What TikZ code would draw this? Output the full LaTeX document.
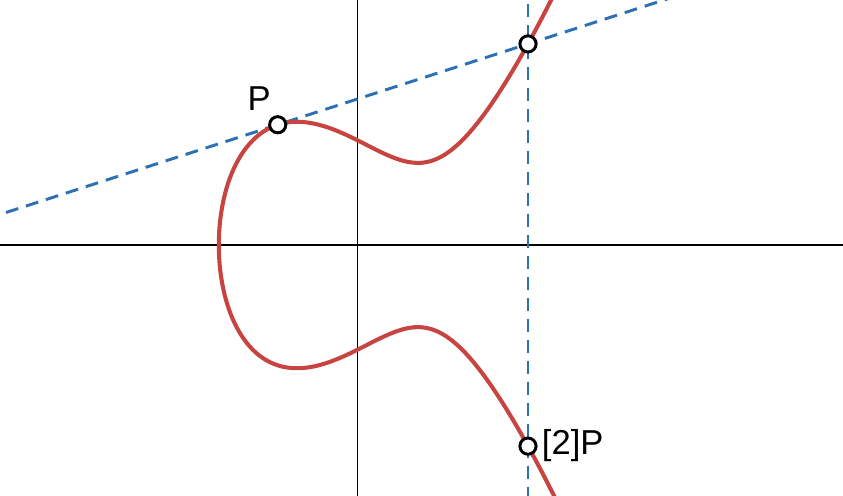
\documentclass[tikz,border=0pt]{standalone}
\usepackage{fontspec}
\setmainfont{Liberation Sans}
\usetikzlibrary{calc}
\definecolor{curvered}{HTML}{C74440}
\definecolor{lineblue}{HTML}{2D70B3}
\tikzset{
  axisline/.style={black, line width=0.3pt},
  ecurve/.style={curvered, line width=1.1pt},
  tangent/.style={lineblue, line width=0.8pt, dash pattern=on 3.5pt off 2.2pt},
  ptmark/.style={circle, draw=black, fill=white, line width=0.8pt, minimum size=4.4pt, inner sep=0pt},
  ptlabel/.style={font=\fontsize{9.4pt}{10pt}\selectfont, inner sep=0pt}
}
\begin{document}
\begin{tikzpicture}[x=1cm,y=1cm]
\useasboundingbox (-3.4145,-2.397) rectangle (4.637,2.340);
\clip (-3.4145,-2.397) rectangle (4.637,2.340);
% axes
\coordinate (xl) at (-3.4145,0);
\coordinate (xr) at (4.637,0);
\coordinate (yb) at (0,-2.397);
\coordinate (yt) at (0,2.340);
\draw[axisline] (xl) -- (xr);
\draw[axisline] (yb) -- (yt);
% points
\coordinate (P) at (-0.762,1.14872);
\coordinate (Q) at (1.62829,1.92064);
\coordinate (R) at (1.62829,-1.92064);
% tangent line through P and Q
\coordinate (tl) at ($(P)!-3!(Q)$);
\coordinate (tr) at ($(P)!4!(Q)$);
\draw[tangent] (tl) -- (tr);
% vertical line
\coordinate (vt) at (1.62829,2.5);
\coordinate (vb) at (1.62829,-2.5);
\draw[tangent] (vt) -- (vb);
% curve y^2 = x^3 - x + 1
\draw[ecurve, smooth, samples=241, variable=\t, domain=-1.84:1.84]
  plot ({-1.324718+\t*\t}, {sign(\t)*sqrt(max((-1.324718+\t*\t)^3-(-1.324718+\t*\t)+1,0))});
% markers
\node[ptmark] (p) at (P) {};
\node[ptmark] (q) at (Q) {};
\node[ptmark] (r) at (R) {};
\node[ptlabel] (pl) at (-0.94,1.40) {P};
\node[ptlabel, anchor=west] (rl) at (1.755,-1.92) {[2]P};
\end{tikzpicture}
\end{document}
